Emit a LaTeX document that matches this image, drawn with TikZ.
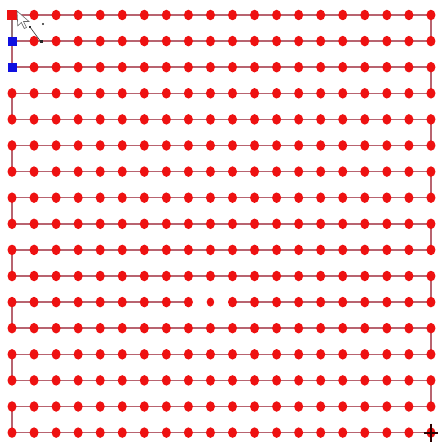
\documentclass[tikz,border=0pt]{standalone}
\pgfdeclarelayer{bg}
\pgfsetlayers{bg,main}
\definecolor{dotred}{HTML}{EE1111}
\definecolor{linecol}{HTML}{B86470}
\definecolor{selblue}{HTML}{1010E0}
\tikzset{
  dot/.style={ellipse,draw=none,fill=dotred,minimum width=9pt,minimum height=10.5pt,inner sep=0pt},
  smalldot/.style={ellipse,draw=none,fill=dotred,minimum width=7.5pt,minimum height=9pt,inner sep=0pt},
  redsq/.style={rectangle,fill=dotred,draw=none,minimum size=9.5pt,inner sep=0pt},
  bluesq/.style={rectangle,fill=selblue,draw=none,minimum size=9pt,inner sep=0pt},
  link/.style={draw=linecol,line width=1.5pt},
}
\usetikzlibrary{shapes.geometric}
\begin{document}
\begin{tikzpicture}[x=1pt,y=-1pt]
\useasboundingbox (0,0) rectangle (438,443);
% positions
\foreach \j in {0,...,16}{
  \foreach \i in {0,...,19}{
    \pgfmathsetmacro{\xx}{12+22.05*\i}
    \pgfmathsetmacro{\yy}{15+26.1*\j}
    \coordinate (c-\j-\i) at (\xx,\yy);
  }
}
% nodes
\foreach \j in {0,...,16}{
  \foreach \i in {0,...,19}{
    \pgfmathtruncatemacro{\kind}{(\j==0 && \i==0) ? 1 : (((\j==1 || \j==2) && \i==0) ? 2 : ((\j==11 && \i==9) ? 3 : 0))}
    \ifcase\kind
      \node[dot] (n-\j-\i) at (c-\j-\i) {};
    \or
      \node[redsq] (n-\j-\i) at (c-\j-\i) {};
    \or
      \node[bluesq] (n-\j-\i) at (c-\j-\i) {};
    \or
      \node[smalldot] (n-\j-\i) at (c-\j-\i) {};
    \fi
  }
}
% connectors
\begin{pgfonlayer}{bg}
\foreach \j in {0,...,16}{
  \foreach \i [evaluate=\i as \k using int(\i+1)] in {0,...,18}{
    \pgfmathtruncatemacro{\skip}{(\j==11 && (\i==8 || \i==9)) ? 1 : 0}
    \ifnum\skip=0
      \draw[link] (n-\j-\i.center) -- (n-\j-\k.center);
    \fi
  }
}
\foreach \j [evaluate=\j as \k using int(\j+1)] in {0,2,...,14}{
  \draw[link] (n-\j-19.center) -- (n-\k-19.center);
}
\foreach \j [evaluate=\j as \k using int(\j+1)] in {1,3,...,15}{
  \draw[link] (n-\j-0.center) -- (n-\k-0.center);
}
\draw[link,draw=gray!60!linecol] (n-0-0.center) -- (n-1-0.center);
\end{pgfonlayer}
% cursor
\coordinate (cur) at (17,11);
\draw[fill=white,draw=gray!80!black,line width=0.6pt]
  (cur) -- ++(0.8,15) -- ++(3.5,-3.5) -- ++(3,6) -- ++(2.2,-1) -- ++(-3,-6) -- ++(5.5,0) -- cycle;
\coordinate (h1) at (30,27);
\coordinate (h2) at (41,42);
\draw[black!80,line width=0.6pt] (h1) -- (h2);
\fill[black!85] (h1) ++(-1.3,-1.3) rectangle ++(2.6,2.6);
\fill[black!85] (h2) ++(-1.5,-1.5) rectangle ++(3,3);
\coordinate (h3) at (43,24);
\fill[black!85] (h3) circle (1.1);
% crosshair at end
\coordinate (endp) at (n-16-19.center);
\draw[draw=black!70!red!60!black,line width=2pt] (endp) ++(0,-9) -- ++(0,18);
\draw[draw=black!70!red!60!black,line width=2pt] (endp) ++(-7,0) -- ++(14,0);
\end{tikzpicture}
\end{document}
